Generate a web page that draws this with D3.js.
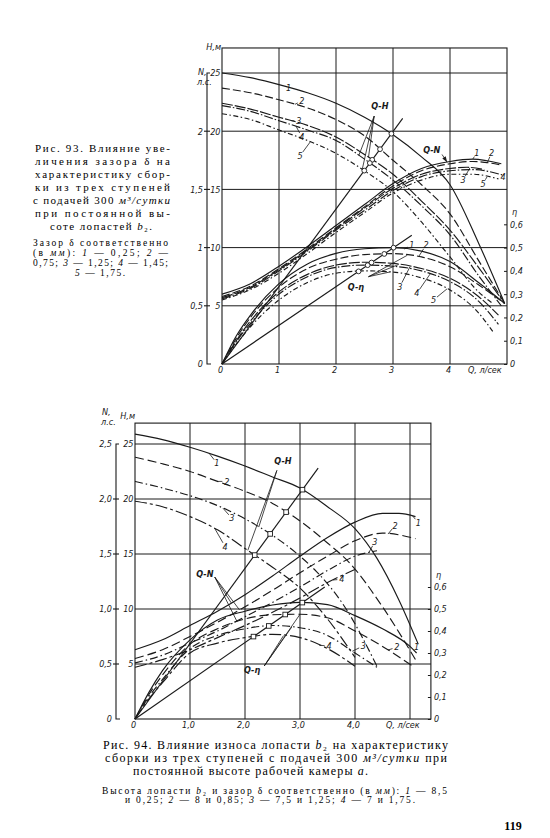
<!DOCTYPE html>
<html lang="ru">
<head>
<meta charset="UTF-8">
<title>Рис. 93, 94 — характеристики сборки из трех ступеней</title>
<script src="https://d3js.org/d3.v7.min.js"></script>
<style>
  body { margin: 0; background: #fff; }
  svg { display: block; background: #fff; }
  .cap { font-family: "Liberation Serif", "DejaVu Serif", serif; fill: #000; }
  .ax text, .lbl { font-family: "DejaVu Sans Condensed", "Liberation Sans", sans-serif; font-style: italic; font-size: 9px; fill: #1a1a1a; }
  .grid { stroke: #1a1a1a; stroke-width: 1; }
  .frame { fill: none; stroke: #1a1a1a; stroke-width: 1.1; }
  .crv { fill: none; stroke: #1a1a1a; stroke-width: 1.15; }
  .thin { fill: none; stroke: #1a1a1a; stroke-width: 0.8; }
</style>
</head>
<body>
<svg width="550" height="838"></svg>
<script>
// --- общие шкалы ---
const hTicks = [0, 5, 10, 15, 20, 25];
const hLabels = ["", "5", "10", "15", "20", "25"];
const nTicks = [0, 0.5, 1, 1.5, 2, 2.5];
const etaTicks = [0, 0.1, 0.2, 0.3, 0.4, 0.5, 0.6];
const etaLabels = ["0", "0,1", "0,2", "0,3", "0,4", "0,5", "0,6"];

// --- Рис. 93: зазор 0,25 / 0,75 / 1,25 / 1,45 / 1,75 мм ---
const qTicks93 = [0, 1, 2, 3, 4];
const qLabels93 = ["0", "1", "2", "3", "4"];
const nLabels93 = ["0", "0,5", "1", "1,5", "2", ""];
const h93 = [
  [[0,25],[0.5,24.6],[1,24.0],[1.5,23.3],[2,22.4],[2.5,21.2],[3,19.7],[3.5,17.8],[4,15.4],[4.5,10.4],[4.96,5.2]],
  [[0,23.7],[0.5,23.3],[1,22.7],[1.5,22.0],[2,21.0],[2.5,19.6],[3,17.5],[3.5,15.4],[4,12.9],[4.5,8.9],[4.96,5.2]],
  [[0,22.4],[0.5,21.9],[1,21.2],[1.5,20.5],[2,19.5],[2.5,18.0],[3,16.3],[3.5,14.0],[4,11.5],[4.5,8.3],[4.9,5.6]],
  [[0,22.2],[0.5,21.7],[1,20.9],[1.5,20.1],[2,19.2],[2.5,17.6],[3,15.8],[3.5,13.6],[4,11.1],[4.5,7.6],[4.9,5.0]],
  [[0,21.5],[0.5,21.0],[1,20.1],[1.5,19.2],[2,18.1],[2.5,16.6],[3,14.8],[3.5,12.2],[4,9.2],[4.5,6.2],[4.75,5.2]]
];
const n93 = [
  [[0,0.6],[0.5,0.69],[1,0.84],[1.5,1.01],[2,1.19],[2.5,1.37],[3,1.55],[3.5,1.68],[4,1.74],[4.4,1.76],[4.9,1.72]],
  [[0,0.58],[0.5,0.67],[1,0.82],[1.5,0.99],[2,1.17],[2.5,1.35],[3,1.53],[3.5,1.66],[4,1.72],[4.4,1.74],[4.9,1.71]],
  [[0,0.57],[0.5,0.66],[1,0.81],[1.5,0.98],[2,1.16],[2.5,1.34],[3,1.51],[3.5,1.63],[4,1.68],[4.3,1.69],[4.6,1.67]],
  [[0,0.56],[0.5,0.65],[1,0.8],[1.5,0.97],[2,1.15],[2.5,1.32],[3,1.49],[3.5,1.61],[4,1.66],[4.4,1.67],[4.95,1.62]],
  [[0,0.55],[0.5,0.64],[1,0.78],[1.5,0.95],[2,1.13],[2.5,1.3],[3,1.47],[3.5,1.58],[4,1.63],[4.4,1.63],[4.85,1.59]]
];
const eta93 = [
  [[0,0],[0.25,0.12],[0.5,0.21],[1,0.345],[1.5,0.43],[2,0.475],[2.5,0.495],[3,0.5],[3.5,0.485],[4,0.44],[4.5,0.35],[4.96,0.26]],
  [[0,0],[0.25,0.11],[0.5,0.2],[1,0.33],[1.5,0.41],[2,0.45],[2.5,0.47],[3,0.474],[3.5,0.46],[4,0.418],[4.5,0.34],[4.96,0.26]],
  [[0,0],[0.25,0.1],[0.5,0.185],[1,0.31],[1.5,0.385],[2,0.425],[2.5,0.437],[3,0.432],[3.5,0.41],[4,0.368],[4.5,0.29],[4.85,0.21]],
  [[0,0],[0.25,0.095],[0.5,0.175],[1,0.3],[1.5,0.375],[2,0.415],[2.5,0.425],[3,0.42],[3.5,0.4],[4,0.354],[4.5,0.27],[4.85,0.17]],
  [[0,0],[0.25,0.085],[0.5,0.16],[1,0.275],[1.5,0.35],[2,0.39],[2.5,0.4],[3,0.395],[3.5,0.37],[4,0.318],[4.5,0.22],[4.75,0.14]]
];
const rayH93 = [3.17, 21.1];
const rayEta93 = [3.33, 0.553];
// подписи кривых: текст, Q, значение, Q выноски (null — без выноски)
const lblH93 = [["1",1.17,23.7,null],["2",1.4,22.6,1.28],["3",1.35,20.9,1.22],["4",1.4,19.5,1.3],["5",1.37,17.9,1.55]];
const lblN93 = [["1",4.47,1.815,4.4],["2",4.73,1.815,4.65],["3",4.23,1.58,4.35],["4",4.93,1.61,null],["5",4.58,1.55,4.65]];
const lblEta93 = [["1",3.33,0.511,3.2],["2",3.58,0.511,3.45],["3",3.12,0.332,3.3],["4",3.42,0.304,3.65],["5",3.71,0.275,3.95]];
const fanH93 = [[2.67, 21.3], [2, 2.57], [3, 2.4], [4, 2.46]];
const fanEta93 = [[2.57, 0.375], [1, 3.25], [2, 3.1], [4, 2.95]];
const arrN93 = [[3.86, 1.8], [0, 3.95]];
const grp93 = [["Q-H", "h", 2.77, 22.2], ["Q-N", "n", 3.68, 1.84], ["Q-η", "e", 2.35, 0.332]];

// --- Рис. 94: b2 / зазор 8,5 и 0,25; 8 и 0,85; 7,5 и 1,25; 7 и 1,75 ---
const qTicks94 = [0, 1, 2, 3, 4];
const qLabels94 = ["0", "1,0", "2,0", "3,0", "4,0"];
const nLabels94 = ["0", "0,5", "1,0", "1,5", "2,0", "2,5"];
const h94 = [
  [[0,25.9],[0.5,25.4],[1,24.7],[1.5,23.9],[2,23.0],[2.5,22.0],[3,21.0],[3.5,19.3],[4,17.3],[4.4,14.6],[4.8,10.8],[5.15,6.8]],
  [[0,23.8],[0.5,23.2],[1,22.5],[1.5,21.6],[2,20.7],[2.5,19.6],[3,18.0],[3.5,16.0],[3.9,14.2],[4.5,10.2],[5.1,5.4]],
  [[0,21.6],[0.5,21.0],[1,20.3],[1.5,19.4],[2,18.2],[2.5,16.7],[3,14.8],[3.3,13.4],[3.8,10.3],[4.4,4.8]],
  [[0,19.8],[0.5,19.3],[1,18.4],[1.5,17.2],[2,15.5],[2.5,13.8],[3,11.9],[3.5,9.1],[4,5.6]]
];
const n94 = [
  [[0,0.63],[0.5,0.72],[1,0.85],[1.5,0.98],[2,1.13],[2.5,1.3],[3,1.48],[3.5,1.65],[4,1.79],[4.5,1.87],[4.8,1.87],[5.1,1.84]],
  [[0,0.55],[0.5,0.63],[1,0.75],[1.5,0.88],[2,1.02],[2.5,1.17],[3,1.33],[3.5,1.48],[4,1.62],[4.5,1.69],[5.1,1.64]],
  [[0,0.51],[0.5,0.58],[1,0.69],[1.5,0.8],[2,0.93],[2.5,1.06],[3,1.2],[3.5,1.35],[4,1.48],[4.4,1.53]],
  [[0,0.47],[0.5,0.54],[1,0.63],[1.5,0.74],[2,0.85],[2.5,0.97],[3,1.1],[3.5,1.24],[4,1.36]]
];
const eta94 = [
  [[0,0],[0.25,0.12],[0.5,0.22],[1,0.36],[1.5,0.45],[2,0.49],[2.5,0.518],[3,0.53],[3.5,0.52],[4,0.47],[4.5,0.41],[5,0.33],[5.12,0.3]],
  [[0,0],[0.25,0.11],[0.5,0.2],[1,0.34],[1.5,0.41],[2,0.455],[2.5,0.474],[3,0.476],[3.5,0.46],[4,0.4],[4.5,0.33],[5.05,0.24]],
  [[0,0],[0.25,0.1],[0.5,0.18],[1,0.32],[1.5,0.38],[2,0.41],[2.5,0.425],[3,0.415],[3.5,0.38],[4,0.3],[4.4,0.235]],
  [[0,0],[0.25,0.09],[0.5,0.165],[1,0.3],[1.5,0.345],[2,0.37],[2.5,0.385],[3,0.37],[3.5,0.32],[4,0.24]]
];
const rayH94 = [3.33, 22.8];
const rayEta94 = [3.45, 0.6];
const lblH94 = [["1",1.49,23.25,1.35],["2",1.67,21.6,1.5],["3",1.76,18.25,1.6],["4",1.64,15.66,1.45]];
const lblN94 = [["1",5.15,1.785,5.05],["2",4.73,1.76,4.6],["3",4.36,1.61,4.25],["4",3.76,1.27,3.6]];
const lblEta94 = [["1",5.12,0.326,5.02],["2",4.76,0.326,4.6],["3",4.15,0.332,3.95],["4",3.53,0.332,3.35]];
const fanH94 = [[2.58, 22.6], [3, 2.05], [2, 2.25]];
const fanN94 = [[1.45, 1.29], [0, 1.75], [1, 1.9], [2, 1.85]];
const fanEta94 = [[2.35, 0.241], [3, 2.7], [2, 2.85], [1, 3.0]];
const grp94 = [["Q-H", "h", 2.69, 23.5], ["Q-N", "n", 1.27, 1.32], ["Q-η", "e", 2.13, 0.222]];

const dash93 = [null, "8,3", "11,2", "9,2,1.5,2", "5,2.5,1.5,2.5"];
const dash94 = [null, "9,4", "8,3,1.5,3", "12,3,3,3"];

const svg = d3.select("svg");

function interp(s, q) {
  for (let i = 1; i < s.length; i++) {
    if (q <= s[i][0]) {
      const t = (q - s[i - 1][0]) / (s[i][0] - s[i - 1][0]);
      return s[i - 1][1] + t * (s[i][1] - s[i - 1][1]);
    }
  }
  return s[s.length - 1][1];
}

// точка пересечения кривой с лучом из начала координат
function hit(s, k) {
  for (let i = 2; i < s.length; i++) {
    const f0 = s[i - 1][1] - k * s[i - 1][0], f1 = s[i][1] - k * s[i][0];
    if (f0 >= 0 && f1 < 0) {
      const t = f0 / (f0 - f1);
      return [s[i - 1][0] + t * (s[i][0] - s[i - 1][0]), s[i - 1][1] + t * (s[i][1] - s[i - 1][1])];
    }
  }
  return null;
}

function drawChart(c) {
  const x = d3.scaleLinear().domain([0, 5]).range(c.xr);
  const y = d3.scaleLinear().domain([0, 25]).range(c.yr);
  const sc = {
    h: y,
    n: d3.scaleLinear().domain([0, 2.5]).range(c.yr),
    e: d3.scaleLinear().domain([0, 1.25]).range(c.yr)
  };
  const fam = { h: c.h, n: c.n, e: c.eta };
  const g = svg.append("g");
  const x0 = x(0), xR = x(c.qMax), y0 = y(0), yT = y(c.hTop);

  // сетка и рамка
  g.selectAll(null).data(c.qGrid).join("line").attr("class", "grid")
    .attr("x1", d => x(d)).attr("x2", d => x(d)).attr("y1", yT).attr("y2", y0);
  g.selectAll(null).data(hTicks.slice(1)).join("line").attr("class", "grid")
    .attr("x1", x0).attr("x2", xR).attr("y1", d => y(d)).attr("y2", d => y(d));
  g.append("rect").attr("class", "frame")
    .attr("x", x0).attr("y", yT).attr("width", xR - x0).attr("height", y0 - yT);

  // левая шкала N и H
  g.append("path").attr("class", "frame")
    .attr("d", `M${c.nx + 3},${y(25)}H${c.nx}V${y0}H${c.nx + 4}`);
  g.selectAll(null).data(hTicks.slice(1, 5)).join("line").attr("class", "frame")
    .attr("x1", c.nx - 3).attr("x2", c.nx + 3).attr("y1", d => y(d)).attr("y2", d => y(d));
  const nAx = g.append("g").attr("class", "ax").attr("transform", `translate(${c.nx},0)`)
    .call(d3.axisLeft(sc.n).tickValues(nTicks).tickFormat((d, i) => c.nLabels[i]).tickSize(0).tickPadding(4));
  nAx.select(".domain").remove();
  const hAx = g.append("g").attr("class", "ax").attr("transform", `translate(${x0},0)`)
    .call(d3.axisLeft(y).tickValues(hTicks).tickFormat((d, i) => hLabels[i]).tickSize(0).tickPadding(1.5));
  hAx.select(".domain").remove();

  // ось Q
  const qAx = g.append("g").attr("class", "ax").attr("transform", `translate(0,${y0})`)
    .call(d3.axisBottom(x).tickValues(c.qTicks).tickFormat((d, i) => c.qLabels[i]).tickSize(0).tickPadding(3));
  qAx.select(".domain").remove();
  qAx.selectAll("text").attr("dx", -2);

  // правая шкала η
  const eAx = g.append("g").attr("class", "ax").attr("transform", `translate(${xR},0)`)
    .call(d3.axisRight(sc.e).tickValues(etaTicks).tickFormat((d, i) => etaLabels[i]).tickSize(-3).tickPadding(3));
  eAx.select(".domain").remove();
  eAx.selectAll("line").attr("stroke", "#1a1a1a");

  // обозначения осей
  g.append("text").attr("class", "lbl").attr("x", xR + 5).attr("y", sc.e(0.655)).attr("dy", "0.35em").text("η");
  g.append("text").attr("class", "lbl").attr("x", c.qNameX).attr("y", y0 + 3).attr("dy", "0.71em").text("Q, л/сек");
  g.append("text").attr("class", "lbl").attr("x", c.nameHx).attr("y", yT + c.nameHdy).attr("text-anchor", "end").text("H,м");
  g.append("text").attr("class", "lbl").attr("x", c.nameNx).attr("y", c.nameNy).text("N,");
  g.append("text").attr("class", "lbl").attr("x", c.nameNx - 1).attr("y", c.nameNy + 9.5).text("л.с.");

  // кривые
  const line = key => d3.line().x(d => x(d[0])).y(d => sc[key](d[1])).curve(d3.curveMonotoneX);
  ["h", "n", "e"].forEach(key => {
    fam[key].forEach((s, i) => {
      g.append("path").attr("class", "crv").attr("stroke-dasharray", c.dash[i]).attr("d", line(key)(s));
    });
  });

  // лучи через рабочие точки и сами точки
  [["h", c.rayH], ["e", c.rayEta]].forEach(([key, end]) => {
    g.append("line").attr("class", "crv")
      .attr("x1", x(0)).attr("y1", sc[key](0)).attr("x2", x(end[0])).attr("y2", sc[key](end[1]));
    const k = end[1] / end[0];
    fam[key].forEach(s => {
      const p = hit(s, k);
      if (!p) return;
      if (c.square) {
        g.append("rect").attr("x", x(p[0]) - 2.3).attr("y", sc[key](p[1]) - 2.3).attr("width", 4.6).attr("height", 4.6)
          .attr("fill", "#fff").attr("stroke", "#1a1a1a").attr("stroke-width", 0.9);
      } else {
        g.append("circle").attr("cx", x(p[0])).attr("cy", sc[key](p[1])).attr("r", 2.4)
          .attr("fill", "#fff").attr("stroke", "#1a1a1a").attr("stroke-width", 0.9);
      }
    });
  });

  // номера кривых с выносками
  [["h", c.lblH], ["n", c.lblN], ["e", c.lblEta]].forEach(([key, list]) => {
    list.forEach(([t, q, v, lq]) => {
      const tx = x(q), ty = sc[key](v);
      g.append("text").attr("class", "lbl").attr("x", tx).attr("y", ty).attr("dy", "0.35em")
        .attr("text-anchor", "middle").text(t);
      if (lq == null) return;
      const px = x(lq), py = sc[key](interp(fam[key][+t - 1], lq));
      const dx = tx - px, dy = ty - py, len = Math.hypot(dx, dy);
      if (len < 6) return;
      g.append("line").attr("class", "thin")
        .attr("x1", px).attr("y1", py).attr("x2", tx - dx / len * 4.5).attr("y2", ty - dy / len * 4.5);
    });
  });

  // веерные выноски к подписям групп
  c.fans.forEach(([key, fan]) => {
    const [apex, ...to] = fan;
    to.forEach(([idx, q]) => {
      g.append("line").attr("class", "thin")
        .attr("x1", x(apex[0])).attr("y1", sc[key](apex[1]))
        .attr("x2", x(q)).attr("y2", sc[key](interp(fam[key][idx], q)));
    });
  });
  if (c.arrN) {
    const [from, [idx, q]] = c.arrN;
    const ax = x(q), ay = sc.n(interp(fam.n[idx], q));
    const fx = x(from[0]), fy = sc.n(from[1]);
    const ang = Math.atan2(ay - fy, ax - fx);
    g.append("line").attr("class", "thin").attr("x1", fx).attr("y1", fy).attr("x2", ax).attr("y2", ay);
    g.append("path").attr("fill", "#1a1a1a")
      .attr("d", d3.line()([[ax, ay],
        [ax - 6 * Math.cos(ang - 0.35), ay - 6 * Math.sin(ang - 0.35)],
        [ax - 6 * Math.cos(ang + 0.35), ay - 6 * Math.sin(ang + 0.35)]]) + "Z");
  }
  c.groups.forEach(([t, key, q, v]) => {
    g.append("text").attr("class", "lbl").attr("x", x(q)).attr("y", sc[key](v)).attr("dy", "0.35em")
      .attr("text-anchor", "middle").attr("font-weight", "bold").text(t);
  });
}

drawChart({
  xr: [222, 507], yr: [364, 73], qMax: 5, hTop: 27.15, nx: 207,
  qGrid: [1, 2, 3, 4], qTicks: qTicks93, qLabels: qLabels93, nLabels: nLabels93,
  h: h93, n: n93, eta: eta93, dash: dash93, rayH: rayH93, rayEta: rayEta93,
  lblH: lblH93, lblN: lblN93, lblEta: lblEta93,
  fans: [["h", fanH93], ["e", fanEta93]], arrN: arrN93, groups: grp93, square: false,
  qNameX: 468, nameHx: 221, nameHdy: 2, nameNx: 198, nameNy: 75
});

drawChart({
  xr: [135, 410], yr: [719, 444], qMax: 5.38, hTop: 26.9, nx: 116,
  qGrid: [1, 2, 3, 4, 5], qTicks: qTicks94, qLabels: qLabels94, nLabels: nLabels94,
  h: h94, n: n94, eta: eta94, dash: dash94, rayH: rayH94, rayEta: rayEta94,
  lblH: lblH94, lblN: lblN94, lblEta: lblEta94,
  fans: [["h", fanH94], ["n", fanN94], ["e", fanEta94]], arrN: null, groups: grp94, square: true,
  qNameX: 386, nameHx: 135, nameHdy: -4, nameNx: 102, nameNy: 415
});

// --- подписи к рисункам ---
function capLine(x1, x2, yc, size, parts, fit) {
  const t = svg.append("text").attr("class", "cap").attr("x", x1).attr("y", yc)
    .attr("dy", "0.35em").attr("font-size", size);
  parts.forEach(p => {
    const [s, st] = typeof p === "string" ? [p, ""] : p;
    const ts = t.append("tspan").text(s);
    if (st.includes("i")) ts.attr("font-style", "italic");
  });
  if (fit) t.attr("textLength", x2 - x1).attr("lengthAdjust", "spacing");
}

capLine(35, 170, 148, 11, ["Рис. 93. Влияние уве-"], true);
capLine(35, 170, 161, 11, ["личения зазора δ на"], true);
capLine(35, 170, 174, 11, ["характеристику сбор-"], true);
capLine(35, 170, 187, 11, ["ки из трех ступеней"], true);
capLine(33, 170, 200, 11, ["с подачей 300 ", ["м³/сутки", "i"]], true);
capLine(35, 170, 213, 11, ["при постоянной вы-"], true);
capLine(50, 152, 226, 11, ["соте лопастей ", ["b", "i"], "₂."], true);
capLine(33, 168, 243, 9.5, ["Зазор δ соответственно"], true);
capLine(33, 168, 253, 9.5, ["(в ", ["мм", "i"], "): ", ["1", "i"], " — 0,25; ", ["2", "i"], " —"], true);
capLine(33, 168, 263, 9.5, ["0,75; ", ["3", "i"], " — 1,25; ", ["4", "i"], " — 1,45;"], true);
capLine(75, 125, 273, 9.5, [["5", "i"], " — 1,75."], true);

capLine(103, 448, 745, 12, ["Рис. 94. Влияние износа лопасти ", ["b", "i"], "₂ на характеристику"], true);
capLine(105, 447, 758, 12, ["сборки из трех ступеней с подачей 300 ", ["м³/сутки", "i"], " при"], true);
capLine(133, 368, 771, 12, ["постоянной высоте рабочей камеры ", ["a", "i"], "."], true);
capLine(102, 447, 791, 9.5, ["Высота лопасти ", ["b", "i"], "₂ и зазор δ соответственно (в ", ["мм", "i"], "): ", ["1", "i"], " — 8,5"], true);
capLine(125, 415, 800, 9.5, ["и 0,25; ", ["2", "i"], " — 8 и 0,85; ", ["3", "i"], " — 7,5 и 1,25; ", ["4", "i"], " — 7 и 1,75."], true);

svg.append("text").attr("class", "cap").attr("x", 513).attr("y", 826).attr("dy", "0.35em")
  .attr("text-anchor", "middle").attr("font-size", 12).attr("font-weight", "bold").text("119");
</script>
</body>
</html>
